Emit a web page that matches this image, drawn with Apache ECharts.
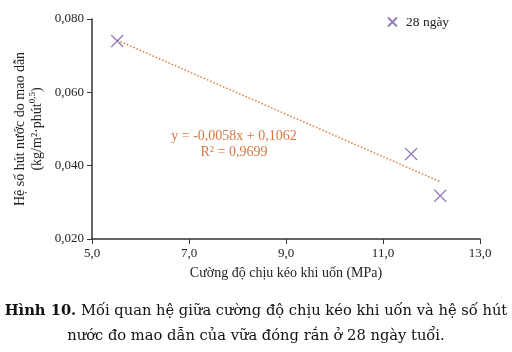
<!DOCTYPE html>
<html>
<head>
<meta charset="utf-8">
<script src="https://cdn.jsdelivr.net/npm/echarts@6/dist/echarts.min.js"></script>
<style>
  html, body { margin: 0; padding: 0; background: #fff; }
  #chart { width: 512px; height: 352px; }
</style>
</head>
<body>
<div id="chart"></div>
<script>
// measured points, 28 days
const strength = [5.52, 11.58, 12.18]
const sorptivity = [0.0740, 0.0432, 0.0318]
// trendline end points as drawn
const trendX = [5.52, 12.2]
const trendY = [0.0742, 0.0355]
const xTicks = [5, 7, 9, 11, 13]
const yTicks = [0.02, 0.04, 0.06, 0.08]

const SERIF = '"Liberation Serif", "DejaVu Serif", serif'
const CAP = '"DejaVu Serif", serif'
const comma = (v, d) => v.toFixed(d).replace('.', ',')
const CROSS = 'path://M0,0 L10,10 M10,0 L0,10'

const chart = echarts.init(document.getElementById('chart'), null, { renderer: 'canvas' })

chart.setOption({
  animation: false,
  textStyle: { fontFamily: SERIF },
  grid: { left: 92, right: 32, top: 19, bottom: 113 },
  legend: {
    left: 382,
    top: 10,
    itemWidth: 9,
    itemHeight: 9,
    itemGap: 6,
    textStyle: { fontFamily: SERIF, fontSize: 13.5, color: '#222', padding: [0, 0, 0, 4] },
    data: [{ name: '28 ngày', icon: CROSS }]
  },
  xAxis: {
    type: 'value',
    min: xTicks[0],
    max: xTicks[xTicks.length - 1],
    interval: 2,
    name: 'Cường độ chịu kéo khi uốn (MPa)',
    nameLocation: 'middle',
    nameGap: 27,
    nameTextStyle: { fontFamily: SERIF, fontSize: 14, color: '#222' },
    axisLine: { lineStyle: { color: '#333', width: 1.5 } },
    axisTick: { show: true, length: 5, lineStyle: { color: '#333' } },
    axisLabel: { fontFamily: SERIF, fontSize: 13, color: '#222', margin: 8, formatter: v => comma(v, 1) },
    splitLine: { show: false }
  },
  yAxis: {
    type: 'value',
    min: yTicks[0],
    max: yTicks[yTicks.length - 1],
    interval: 0.02,
    name: '{t|Hệ số hút nước do mao dẫn}\n{t|(kg/m²·phút}{s|0,5}{t|)}',
    nameLocation: 'middle',
    nameRotate: 90,
    nameGap: 43,
    nameTextStyle: {
      fontFamily: SERIF,
      color: '#222',
      align: 'center',
      rich: {
        t: { fontFamily: SERIF, fontSize: 14, color: '#222', lineHeight: 17 },
        s: { fontFamily: SERIF, fontSize: 9, color: '#222', verticalAlign: 'top', lineHeight: 17 }
      }
    },
    axisLine: { show: true, lineStyle: { color: '#333', width: 1.5 } },
    axisTick: { show: true, length: 5, lineStyle: { color: '#333' } },
    axisLabel: { fontFamily: SERIF, fontSize: 13, color: '#222', margin: 8, formatter: v => comma(v, 3) },
    splitLine: { show: false }
  },
  series: [
    {
      name: 'trend',
      type: 'line',
      data: trendX.map((x, i) => [x, trendY[i]]),
      symbol: 'none',
      lineStyle: { color: '#E07B39', width: 1.5, type: [1.5, 2] },
      silent: true,
      z: 1
    },
    {
      name: '28 ngày',
      type: 'scatter',
      data: strength.map((x, i) => [x, sorptivity[i]]),
      symbol: CROSS,
      symbolSize: 12,
      itemStyle: { color: 'rgba(0,0,0,0)', borderColor: '#7A5BA6', borderWidth: 1.3 },
      z: 3
    }
  ],
  graphic: [
    {
      type: 'text', x: 234, y: 136,
      style: { text: 'y = -0,0058x + 0,1062', align: 'center', verticalAlign: 'middle',
        fontFamily: SERIF, fontSize: 14, fill: '#D9773F' }
    },
    {
      type: 'text', x: 234, y: 152,
      style: { text: 'R² = 0,9699', align: 'center', verticalAlign: 'middle',
        fontFamily: SERIF, fontSize: 14, fill: '#D9773F' }
    },
    {
      type: 'text', x: 256, y: 311,
      style: {
        text: '{b|Hình 10.} Mối quan hệ giữa cường độ chịu kéo khi uốn và hệ số hút',
        align: 'center', verticalAlign: 'middle',
        fontFamily: CAP, fontSize: 14.7, fill: '#111',
        rich: { b: { fontFamily: CAP, fontSize: 14.7, fontWeight: 'bold', fill: '#111' } }
      }
    },
    {
      type: 'text', x: 256, y: 336,
      style: {
        text: 'nước đo mao dẫn của vữa đóng rắn ở 28 ngày tuổi.',
        align: 'center', verticalAlign: 'middle',
        fontFamily: CAP, fontSize: 14.7, fill: '#111'
      }
    }
  ]
})
</script>
</body>
</html>
